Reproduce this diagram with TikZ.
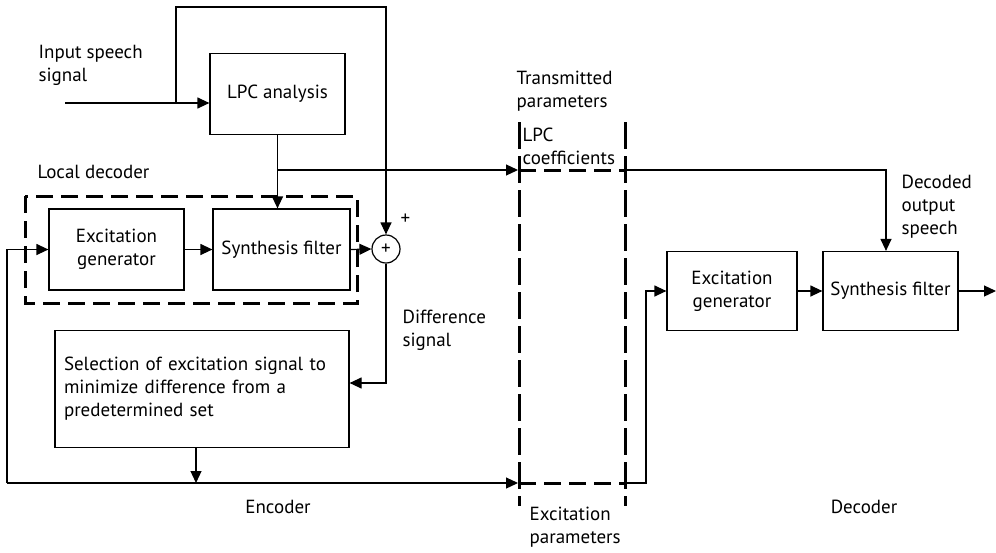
\documentclass[tikz,border=0pt]{standalone}
\usepackage{fontspec}
\setmainfont{PT Sans}
\usetikzlibrary{arrows.meta}
\begin{document}
\begin{tikzpicture}[x=1pt,y=-1pt,
  font=\fontsize{19}{23}\selectfont,
  line width=1.2pt,
  arr/.style={-{Triangle[length=12pt,width=11pt]}},
  blk/.style={draw,rectangle,inner sep=0pt,align=center},
  lbl/.style={inner sep=0pt,align=left,anchor=west},
  dashbox/.style={line width=3pt,dash pattern=on 17pt off 8pt},
  dashcol/.style={line width=3pt,dash pattern=on 27pt off 7pt}]
\useasboundingbox (0,0) rectangle (996,552);
% blocks
\node[blk,minimum width=135pt,minimum height=81pt] (lpc) at (277.5,94) {LPC analysis};
\node[blk,minimum width=135pt,minimum height=81pt] (exg1) at (116.5,249.5) {Excitation\\generator};
\node[blk,minimum width=137pt,minimum height=81pt] (syn1) at (281.5,249.5) {Synthesis filter};
\node[draw,circle,minimum size=28pt,inner sep=0pt] (sum) at (386,249) {+};
\node[blk,minimum width=294pt,minimum height=117pt,text width=276pt,align=left] (sel) at (202,389) {Selection of excitation signal to\\minimize difference from a\\predetermined set};
\node[blk,minimum width=130pt,minimum height=79pt] (exg2) at (732,291) {Excitation\\generator};
\node[blk,minimum width=135pt,minimum height=79pt] (syn2) at (890.5,291) {Synthesis filter};
% coordinates
\coordinate (in) at (65,103);
\coordinate (loopA) at (176,103);
\coordinate (br) at (277.5,170);
\coordinate (tpL) at (518,170);
\coordinate (tpR) at (625,170);
\coordinate (d1) at (386,383);
\coordinate (bus) at (196,483);
\coordinate (busL) at (7,483);
\coordinate (epL) at (518,483);
\coordinate (epR) at (625,483);
\coordinate (up) at (646,483);
\coordinate (dn) at (886,170);
\coordinate (out) at (996,291);
% local decoder dashed box
\draw[dashbox] (25,196) rectangle (357,303);
% transmitted column
\draw[dashcol] (519,122) -- (519,506);
\draw[dashcol] (625,122) -- (625,506);
\draw[dashbox] (519,170) -- (625,170);
\draw[dashbox] (519,483) -- (625,483);
% connectors
\draw[arr] (in) -- (in -| lpc.west);
\draw[arr] (loopA) -- (176,7) -- (386,7) -- (sum.north);
\draw[arr] (lpc.south) -- (lpc.south |- syn1.north);
\draw[arr] (br) -- (tpL);
\draw[arr] (exg1.east) -- (syn1.west);
\draw[arr] (syn1.east) -- (sum.west);
\draw[arr] (sum.south) -- (d1) -- (sel.east |- d1);
\draw[arr] (bus |- sel.south) -- (bus);
\draw[arr] (busL) |- (exg1.west);
\draw[arr] (busL) -- (epL);
\draw[arr] (tpR) -- (dn) -- (dn |- syn2.north);
\draw[arr] (epR) -- (up) |- (exg2.west);
\draw[arr] (exg2.east) -- (syn2.west);
\draw[arr] (syn2.east) -- (out);
% labels
\node[lbl] (t1) at (38,65) {Input speech\\signal};
\node[lbl] (t2) at (37,172) {Local decoder};
\node[lbl] (t3) at (400,219) {+};
\node[lbl] (t4) at (402,330) {Difference\\signal};
\node[inner sep=0pt] (t5) at (278,507) {Encoder};
\node[lbl] (t6) at (516,91) {Transmitted\\parameters};
\node[lbl] (t7) at (522,146) {LPC\\coefficients};
\node[lbl] (t8) at (529,527) {Excitation\\parameters};
\node[lbl] (t9) at (901,207) {Decoded\\output\\speech};
\node[inner sep=0pt] (t10) at (864,507) {Decoder};
\end{tikzpicture}
\end{document}
